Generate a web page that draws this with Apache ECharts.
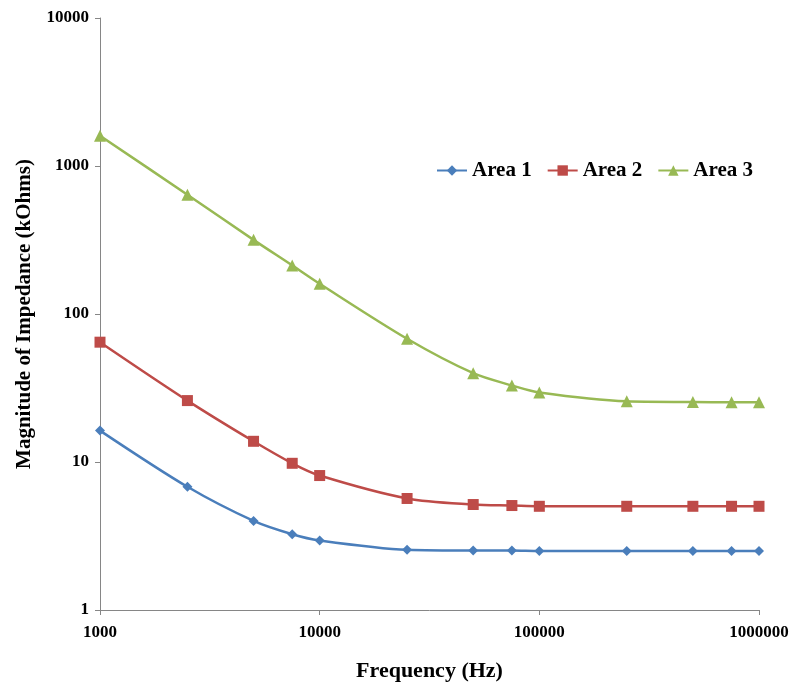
<!DOCTYPE html>
<html>
<head>
<meta charset="utf-8">
<script src="https://cdn.jsdelivr.net/npm/echarts@6/dist/echarts.min.js"></script>
<style>
html,body{margin:0;padding:0;background:#fff;}
#c{width:791px;height:686px;}
</style>
</head>
<body>
<div id="c"></div>
<script>
var frequencies = [1000, 2500, 5000, 7500, 10000, 25000, 50000, 75000, 100000, 250000, 500000, 750000, 1000000];
var area1 = [16.3, 6.8, 4.0, 3.25, 2.95, 2.55, 2.52, 2.52, 2.5, 2.5, 2.5, 2.5, 2.5];
var area2 = [64.5, 26, 13.8, 9.8, 8.1, 5.67, 5.16, 5.08, 5.02, 5.02, 5.02, 5.02, 5.02];
var area3 = [1600, 640, 317, 213, 160, 68, 39.8, 32.9, 29.5, 25.7, 25.4, 25.3, 25.3];
var seriesNames = ['Area 1', 'Area 2', 'Area 3'];
var xTicks = [1000, 10000, 100000, 1000000];
var yTicks = [1, 10, 100, 1000, 10000];

function pairs(ys){ return frequencies.map(function(f,i){ return [f, ys[i]]; }); }

var font = '"Liberation Serif", "Times New Roman", serif';
var axisColor = '#868686';

var chart = echarts.init(document.getElementById('c'), null, {renderer:'canvas'});
chart.setOption({
  animation: false,
  backgroundColor: '#fff',
  grid: {left: 100, right: 32, top: 18, bottom: 76, containLabel: false, outerBoundsMode: 'none'},
  legend: {
    data: seriesNames,
    left: 431, top: 155,
    itemWidth: 30, itemHeight: 13, itemGap: 15,
    textStyle: {fontFamily: font, fontWeight: 'bold', fontSize: 21, color: '#000'}
  },
  xAxis: {
    type: 'log', logBase: 10, min: 1000, max: 1000000,
    name: 'Frequency (Hz)', nameLocation: 'middle', nameGap: 50,
    nameTextStyle: {fontFamily: font, fontWeight: 'bold', fontSize: 22, color: '#000'},
    axisLine: {show: true, lineStyle: {color: axisColor, width: 1}},
    axisTick: {show: true, length: 5, lineStyle: {color: axisColor}},
    splitLine: {show: false},
    minorTick: {show: false},
    axisLabel: {fontFamily: font, fontWeight: 'bold', fontSize: 17, color: '#000', margin: 14,
      formatter: function(v){ return String(Math.round(v)); }}
  },
  yAxis: {
    type: 'log', logBase: 10, min: 1, max: 10000,
    name: 'Magnitude of Impedance (kOhms)', nameLocation: 'middle', nameGap: 65, nameRotate: 90,
    nameTextStyle: {fontFamily: font, fontWeight: 'bold', fontSize: 21, color: '#000'},
    axisLine: {show: true, lineStyle: {color: axisColor, width: 1}},
    axisTick: {show: true, length: 5, lineStyle: {color: axisColor}},
    splitLine: {show: false},
    axisLabel: {fontFamily: font, fontWeight: 'bold', fontSize: 17, color: '#000', margin: 11,
      formatter: function(v){ return String(Math.round(v)); }}
  },
  series: [
    {name: seriesNames[0], type: 'line', data: pairs(area1), smooth: 0.3,
     symbol: 'diamond', symbolSize: 10,
     itemStyle: {color: '#4A7EBB'}, lineStyle: {color: '#4A7EBB', width: 2.5}},
    {name: seriesNames[1], type: 'line', data: pairs(area2), smooth: 0.3,
     symbol: 'rect', symbolSize: 11,
     itemStyle: {color: '#BE4B48'}, lineStyle: {color: '#BE4B48', width: 2.5}},
    {name: seriesNames[2], type: 'line', data: pairs(area3), smooth: 0.3,
     symbol: 'triangle', symbolSize: 12,
     itemStyle: {color: '#98B954'}, lineStyle: {color: '#98B954', width: 2.5}}
  ]
});
</script>
</body>
</html>
